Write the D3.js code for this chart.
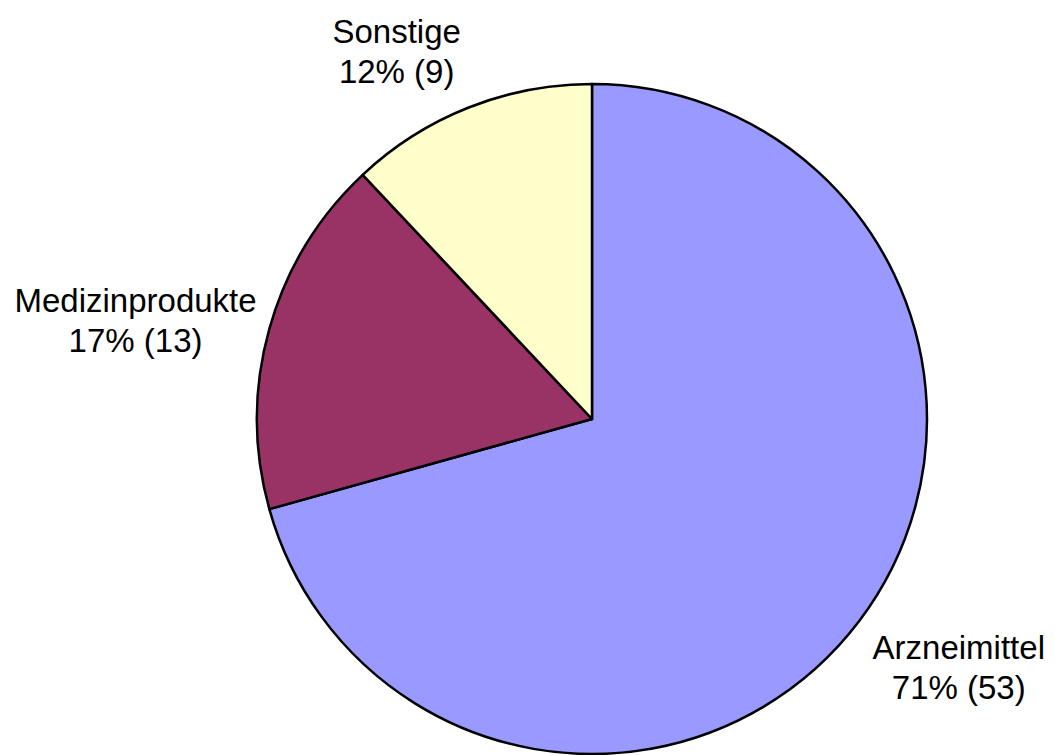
<!DOCTYPE html>
<meta charset="utf-8">
<body style="margin:0;background:#fff">
  <div id="pie_chart"></div>
  <script src="https://d3js.org/d3.v7.min.js"></script>
  <script>
    // data
    var categories = ["Arzneimittel", "Medizinprodukte", "Sonstige"];
    var counts = [53, 13, 9];
    var percentLabels = ["71%", "17%", "12%"];
    var sliceColors = ["#9999FF", "#993366", "#FFFFCC"];

    var width = 1055,
      height = 755,
      radius = 335,
      cx = 592,
      cy = 419;

    var data = categories.map(function(c, i) {
      return { name: c, value: counts[i], pct: percentLabels[i] };
    });

    var svg = d3.select("#pie_chart")
      .append("svg")
      .attr("width", width)
      .attr("height", height)
      .style("display", "block");

    var g = svg.append("g")
      .attr("transform", "translate(" + cx + "," + cy + ")");

    var color = d3.scaleOrdinal()
      .domain(categories)
      .range(sliceColors);

    // clockwise from 12 o'clock, keep data order
    var pie = d3.pie()
      .sort(null)
      .value(function(d) { return d.value; });

    var arc = d3.arc()
      .innerRadius(0)
      .outerRadius(radius);

    var arcs = pie(data);

    g.selectAll("path.slice")
      .data(arcs)
      .enter()
      .append("path")
      .attr("class", "slice")
      .attr("d", arc)
      .style("fill", function(d) { return color(d.data.name); })
      .style("stroke", "#000")
      .style("stroke-width", 2.5)
      .style("stroke-linejoin", "round");

    //********* labels outside the pie, excel style ****************
    var fontSize = 33,
      lineGap = 40,
      boxH = 72;

    var labels = g.selectAll("g.label")
      .data(arcs)
      .enter()
      .append("g")
      .attr("class", "label");

    labels.each(function(d) {
      var lg = d3.select(this);
      var t1 = lg.append("text").text(d.data.name);
      var t2 = lg.append("text").text(d.data.pct + " (" + d.data.value + ")");
      lg.selectAll("text")
        .style("font-family", "'Liberation Sans', Arial, sans-serif")
        .style("font-size", fontSize + "px")
        .style("fill", "#000")
        .style("text-anchor", "middle");

      var w = Math.max(t1.node().getComputedTextLength(), t2.node().getComputedTextLength());
      var a = (d.startAngle + d.endAngle) / 2;
      var dx = Math.sin(a),
        dy = -Math.cos(a);
      // gap to the rim is a bit smaller on the sides
      var labelR = radius + 10 + 12 * Math.abs(dy);
      var px = dx * labelR,
        py = dy * labelR;
      // push the label box away from the pie along the mid angle
      var ox = Math.sign(dx) * w / 2;
      var oy = Math.abs(dy) > 0.5 ? Math.sign(dy) * boxH / 2 : dy * boxH / 4;
      var lx = px + ox,
        ly = py + oy;

      t1.attr("x", lx).attr("y", ly - lineGap / 2 + 11);
      t2.attr("x", lx).attr("y", ly + lineGap / 2 + 11);
    });
  </script>
